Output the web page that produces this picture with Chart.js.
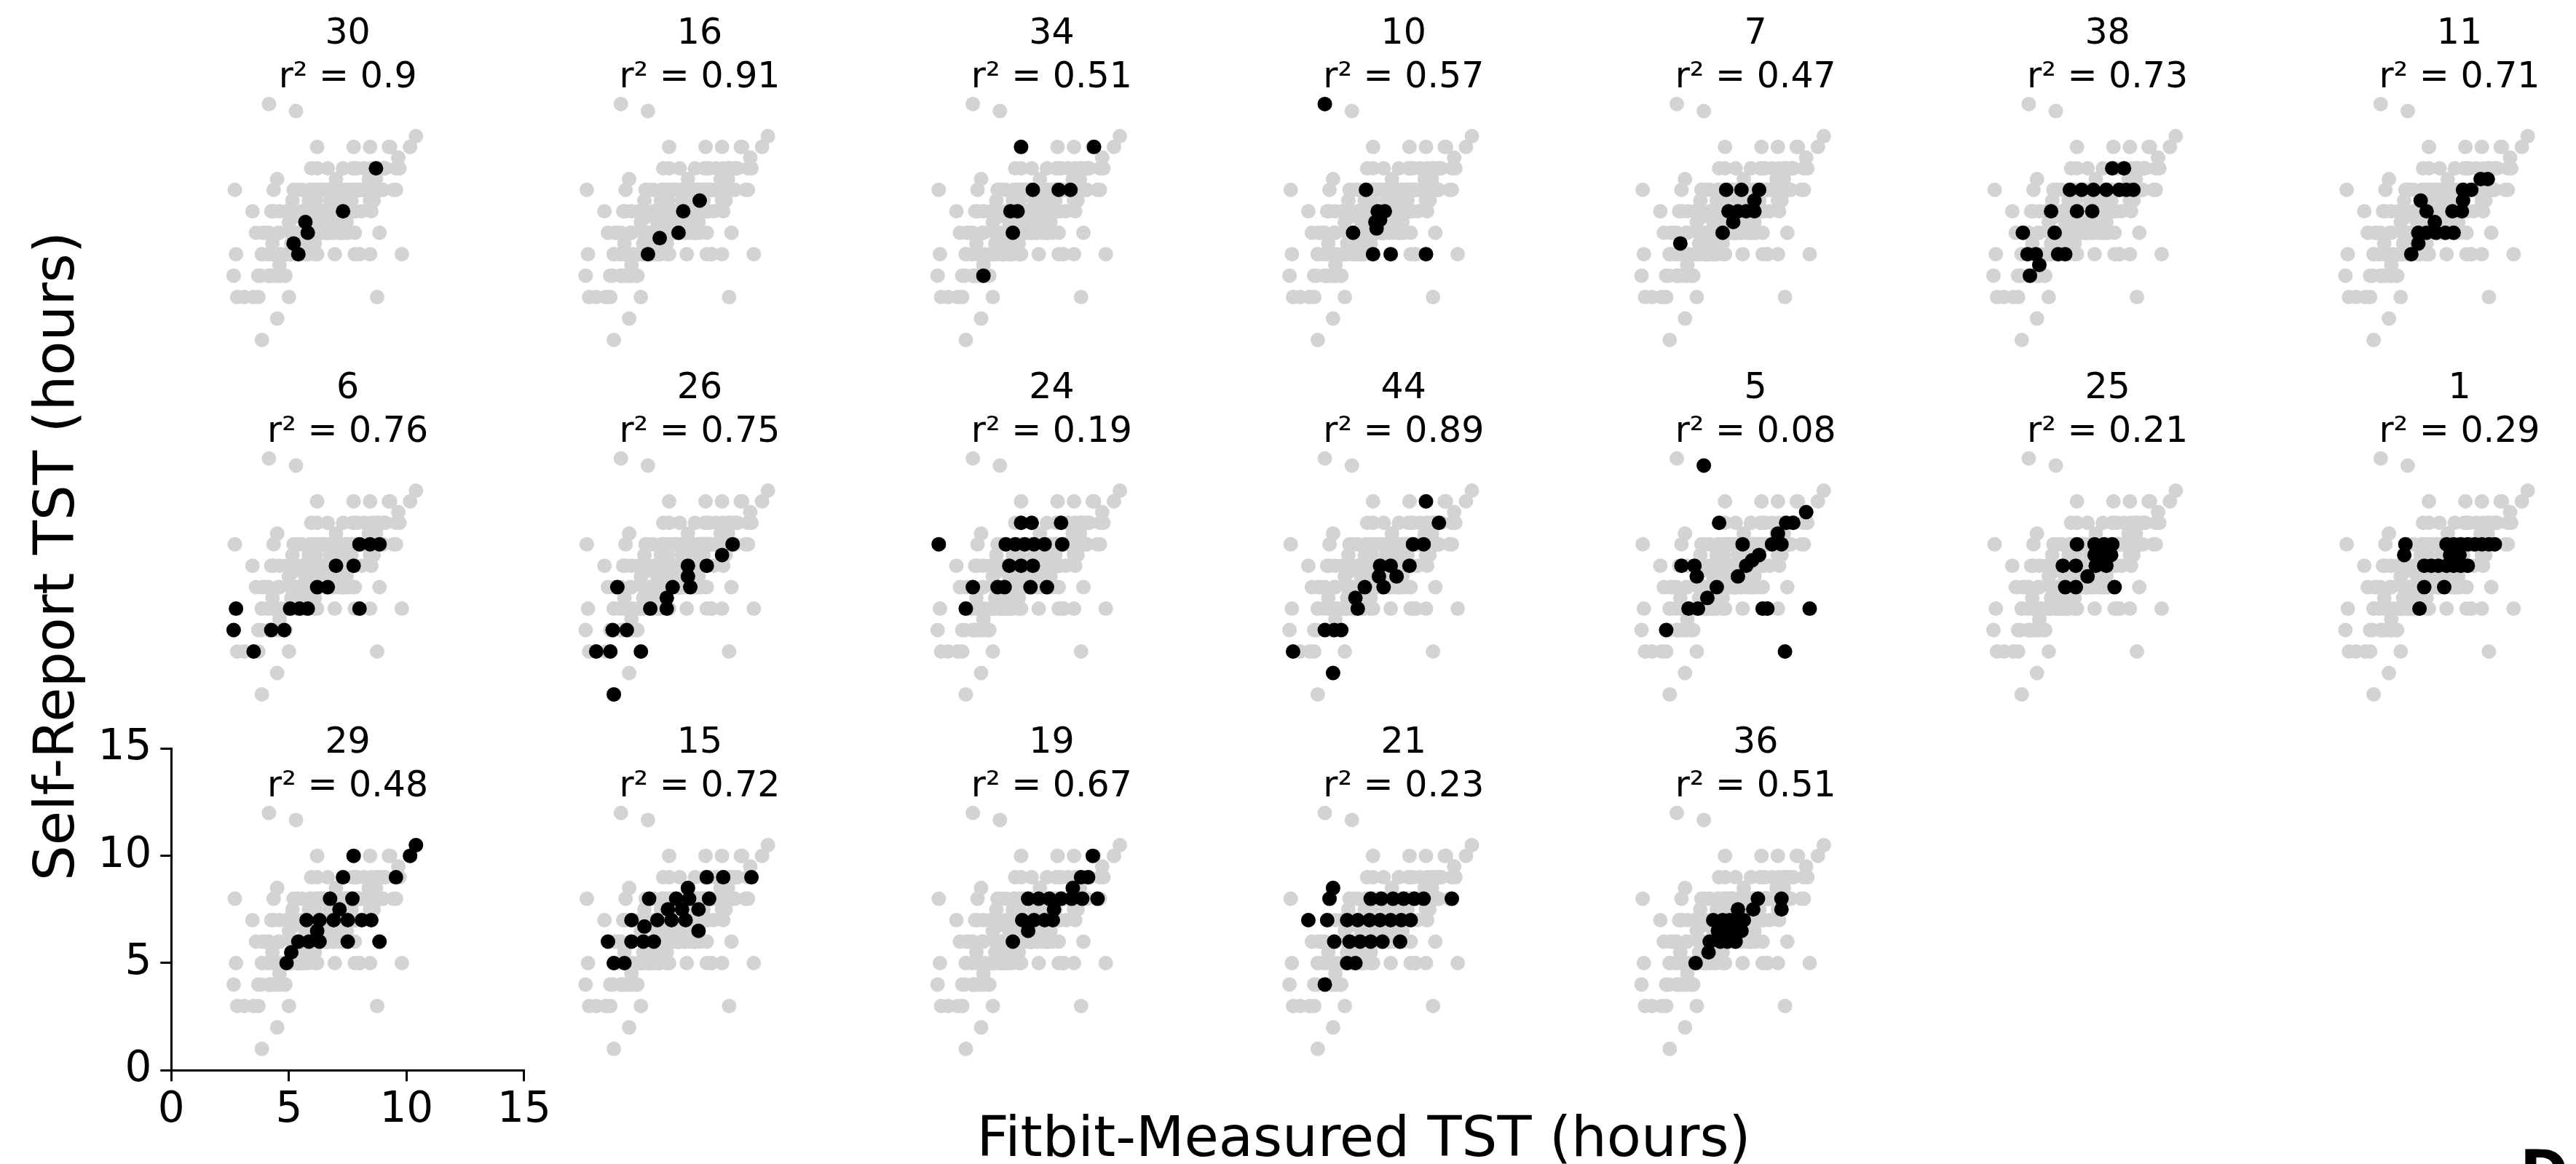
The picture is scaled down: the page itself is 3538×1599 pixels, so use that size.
<!DOCTYPE html>
<html>
<head>
<meta charset="utf-8">
<script src="https://cdn.jsdelivr.net/npm/chart.js@4.4.1/dist/chart.umd.min.js"></script>
<style>
  html, body { margin: 0; padding: 0; background: #fff; }
  body { width: 3538px; height: 1599px; position: relative; overflow: hidden; font-family: "DejaVu Sans", sans-serif; }
  .label { position: absolute; white-space: nowrap; font-size: 77px; line-height: 77px; color: #000; }
  #xlabel { left: 1873px; top: 1523px; transform: translateX(-50%); }
  #ylabel { left: 74px; top: 764px; transform: translate(-50%, -50%) rotate(-90deg); }
  #tag { left: 3461px; top: 1570px; font-size: 80px; line-height: 80px; font-weight: bold; }
</style>
</head>
<body>
<div id="xlabel" class="label">Fitbit-Measured TST (hours)</div>
<div id="ylabel" class="label">Self-Report TST (hours)</div>
<div id="tag" class="label">D</div>
<script>
// participants in panel order (row by row) and their r^2
const participants = [30, 16, 34, 10, 7, 38, 11, 6, 26, 24, 44, 5, 25, 1, 29, 15, 19, 21, 36];
const rSquared = [0.9, 0.91, 0.51, 0.57, 0.47, 0.73, 0.71, 0.76, 0.75, 0.19, 0.89, 0.08, 0.21, 0.29, 0.48, 0.72, 0.67, 0.23, 0.51];
const axisTicks = [0, 5, 10, 15];

// [fitbit hours, self-report hours] per night
const p30 = [[8.7,9],[7.3,7],[5.7,6.5],[5.8,6],[5.2,5.5],[5.4,5]];
const p16 = [[7.5,7.5],[6.8,7],[6.6,6],[5.8,5.75],[5.3,5]];
const p34 = [[6.2,10],[9.3,10],[6.7,8],[7.8,8],[8.3,8],[5.75,7],[6.05,7],[5.85,6],[4.6,4]];
const p10 = [[4.15,12],[5.9,8],[6.4,7],[6.7,7],[6.3,6.5],[6.5,6.6],[6.35,6.2],[5.35,6],[6.2,5],[6.95,5],[8.45,5]];
const p7 = [[6.25,8],[6.9,8],[7.65,8],[7.45,7.5],[6.35,7],[6.75,7],[7.1,7],[7.45,7],[6.55,6.5],[6.1,6],[4.3,5.5]];
const p38 = [[7.7,9],[8.2,9],[5.9,8],[6.4,8],[6.9,8],[7.45,8],[8.0,8],[8.3,8],[8.6,8],[5.1,7],[6.2,7],[6.85,7],[3.9,6],[5.25,6],[4.1,5],[4.45,5],[5.4,5],[5.7,5],[4.6,4.5],[4.2,4]];
const p11 = [[8.4,8.5],[8.7,8.5],[7.65,8],[8.0,8],[7.65,7.5],[7.2,7],[7.6,7],[5.85,7.5],[6.1,7],[6.45,6.5],[5.75,6],[6.1,6],[6.5,6],[6.9,6],[7.25,6],[5.75,5.5],[5.45,5]];
const p6 = [[8.0,8],[8.45,8],[8.85,8],[7.0,7],[7.75,7],[6.2,6],[6.65,6],[2.75,5],[5.05,5],[5.45,5],[5.8,5],[8.0,5],[2.65,4],[4.25,4],[4.8,4],[3.5,3]];
const p26 = [[8.9,8],[8.45,7.5],[7.0,7],[7.8,7],[7.0,6.5],[7.1,6],[6.35,6],[4.0,6],[6.1,5.5],[6.1,5],[5.4,5],[3.8,4],[4.4,4],[3.1,3],[3.7,3],[5.0,3],[3.85,1]];
const p24 = [[6.2,9],[6.65,9],[7.9,9],[2.7,8],[5.55,8],[5.95,8],[6.35,8],[6.75,8],[7.2,8],[7.95,8],[5.7,7],[6.2,7],[6.7,7],[4.15,6],[5.2,6],[5.5,6],[6.6,6],[7.3,6],[3.85,5]];
const p44 = [[8.45,10],[9.0,9],[7.9,8],[8.35,8],[6.5,7],[6.95,7],[7.75,7],[6.45,6.5],[7.2,6.5],[5.85,6],[6.65,6],[5.45,5.5],[5.55,5],[4.15,4],[4.55,4],[4.85,4],[2.8,3],[4.5,2]];
const p5 = [[5.3,11.67],[9.65,9.5],[5.95,9],[8.8,9],[9.1,9],[8.45,8.5],[6.95,8],[8.2,8],[8.6,8],[7.65,7.5],[7.35,7.25],[7.1,7],[4.35,7],[4.9,7],[5.0,6.5],[6.75,6.5],[5.85,6],[5.45,5.5],[4.65,5],[5.05,5],[7.8,5],[8.0,5],[9.8,5],[3.7,4],[8.75,3]];
const p25 = [[6.2,8],[6.95,8],[7.35,8],[7.7,8],[6.95,7.5],[7.3,7.5],[7.65,7.5],[5.6,7],[6.15,7],[7.0,7],[7.45,7],[6.65,6.5],[5.7,6],[6.15,6],[7.8,6]];
const p1 = [[5.2,8],[6.95,8],[7.25,8],[7.55,8],[7.85,8],[8.15,8],[8.45,8],[8.75,8],[9.0,8],[5.15,7.5],[7.1,7.5],[7.5,7.5],[6.0,7],[6.3,7],[6.6,7],[6.95,7],[7.25,7],[7.55,7],[7.85,7],[6.0,6],[6.85,6],[5.8,5]];
const p29 = [[10.4,10.5],[10.15,10],[7.75,10],[9.55,9],[7.3,9],[6.75,8],[7.7,8],[7.15,7.5],[5.75,7],[6.3,7],[6.9,7],[7.5,7],[8.1,7],[8.5,7],[6.2,6.5],[5.4,6],[5.85,6],[6.3,6],[7.5,6],[8.85,6],[5.1,5.5],[4.9,5]];
const p15 = [[7.8,9],[8.5,9],[9.7,9],[7.0,8.5],[5.35,8],[6.5,8],[7.05,8],[7.9,8],[6.15,7.5],[6.75,7.5],[7.45,7.5],[4.6,7],[5.7,7],[6.3,7],[6.9,7],[5.15,6.7],[7.45,6.5],[3.6,6],[4.6,6],[5.1,6],[5.55,6],[3.85,5],[4.3,5]];
const p19 = [[9.25,10],[8.75,9],[9.05,9],[8.4,8.5],[6.5,8],[6.95,8],[7.4,8],[7.9,8],[8.35,8],[8.8,8],[9.45,8],[7.6,7.5],[6.25,7],[6.75,7],[7.2,7],[7.55,7],[6.5,6.5],[5.85,6]];
const p21 = [[4.5,8.5],[4.35,8],[6.1,8],[6.55,8],[7.05,8],[7.5,8],[7.95,8],[8.35,8],[9.55,8],[3.45,7],[4.25,7],[5.1,7],[5.55,7],[6.05,7],[6.5,7],[6.95,7],[7.4,7],[7.8,7],[4.55,6],[5.2,6],[5.65,6],[6.1,6],[6.6,6],[7.35,6],[5.1,5],[5.45,5],[4.15,4]];
const p36 = [[7.6,8],[8.6,8],[8.6,7.5],[7.4,7.5],[6.75,7.5],[5.7,7],[6.1,7],[6.4,7],[6.7,7],[7.0,7],[5.9,6.5],[6.25,6.5],[6.6,6.5],[6.9,6.5],[5.55,6],[6.0,6],[6.3,6],[6.65,6],[5.5,5.5],[4.95,5]];

const nights = [p30, p16, p34, p10, p7, p38, p11, p6, p26, p24, p44, p5, p25, p1, p29, p15, p19, p21, p36];
const allNights = nights.flat(); // grey background: everyone

Chart.defaults.font.family = '"DejaVu Sans", sans-serif';
Chart.defaults.color = '#000';

// layout of the grid (pixels)
const PLOT_W = 484.6, PLOT_H = 442;
const COL0 = 235.3, COL_STEP = 483.4;
const ROW0 = 496.5, ROW_STEP = 486.9;
const PAD = { left: 200, right: 60, top: 60, bottom: 120 };
const AXIS_W = 150, AXIS_H = 110;
const AXES_PANEL = 14; // only participant 29 shows its axes

const panelTitle = {
  id: 'panelTitle',
  afterDraw(chart, args, opts) {
    const { ctx, chartArea } = chart;
    const cx = (chartArea.left + chartArea.right) / 2;
    ctx.save();
    ctx.fillStyle = '#000';
    ctx.font = '49px "DejaVu Sans"';
    ctx.textAlign = 'center';
    ctx.textBaseline = 'alphabetic';
    ctx.fillText(String(opts.name), cx, chartArea.top + 5.5);
    ctx.fillText('r\u00b2 = ' + opts.r2, cx, chartArea.top + 65.5);
    ctx.restore();
  }
};

const toPoints = arr => arr.map(([x, y]) => ({ x, y }));

participants.forEach((id, i) => {
  const row = Math.floor(i / 7), col = i % 7;
  const plotLeft = COL0 + col * COL_STEP;
  const plotTop = ROW0 + row * ROW_STEP - PLOT_H;
  const left = Math.floor(plotLeft - PAD.left);
  const top = Math.floor(plotTop - PAD.top);
  const width = Math.ceil(PLOT_W + PAD.left + PAD.right);
  const height = Math.ceil(PLOT_H + PAD.top + PAD.bottom);
  const padLeft = plotLeft - left;
  const padTop = plotTop - top;
  const padRight = width - padLeft - PLOT_W;
  const padBottom = height - padTop - PLOT_H;
  const withAxes = i === AXES_PANEL;

  const canvas = document.createElement('canvas');
  canvas.width = width;
  canvas.height = height;
  canvas.style.cssText = `position:absolute;left:${left}px;top:${top}px;width:${width}px;height:${height}px`;
  document.body.appendChild(canvas);

  const axisOpts = (padding, fit) => {
    const opts = {
      type: 'linear',
      display: withAxes,
      min: 0,
      max: 15,
      grid: { display: true, drawOnChartArea: false, drawTicks: true, tickLength: 15, lineWidth: 3, color: '#000' },
      border: { display: true, color: '#000', width: 3 },
      ticks: { padding: padding, color: '#000', font: { size: 58 } }
    };
    if (withAxes) {
      opts.afterBuildTicks = s => { s.ticks = axisTicks.map(v => ({ value: v })); };
      opts.afterFit = fit;
    }
    return opts;
  };

  new Chart(canvas, {
    type: 'scatter',
    data: {
      datasets: [
        { data: toPoints(nights[i]), backgroundColor: '#000', pointRadius: 10, pointBorderWidth: 0, order: 0 },
        { data: toPoints(allNights), backgroundColor: '#d3d3d3', pointRadius: 10, pointBorderWidth: 0, order: 1 }
      ]
    },
    options: {
      responsive: false,
      devicePixelRatio: 1,
      animation: false,
      events: [],
      layout: {
        padding: {
          left: withAxes ? padLeft - AXIS_W : padLeft,
          right: padRight,
          top: padTop,
          bottom: withAxes ? padBottom - AXIS_H : padBottom
        }
      },
      scales: {
        x: axisOpts(6, s => { s.height = AXIS_H; }),
        y: axisOpts(12, s => { s.width = AXIS_W; })
      },
      plugins: {
        legend: { display: false },
        tooltip: { enabled: false },
        panelTitle: { name: id, r2: rSquared[i] }
      }
    },
    plugins: [panelTitle]
  });
});
</script>
</body>
</html>
